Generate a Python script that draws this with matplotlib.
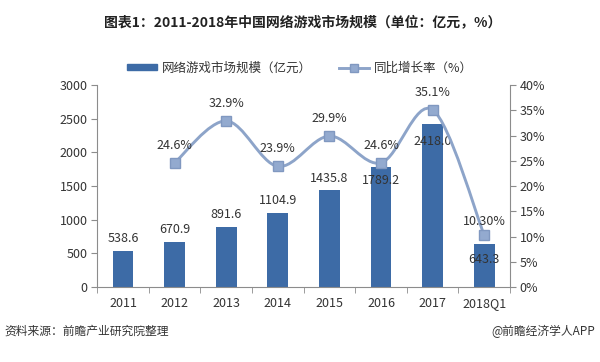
import numpy as np
import matplotlib
matplotlib.use("Agg")
from matplotlib import pyplot as plt
from matplotlib.path import Path
from matplotlib.patches import PathPatch
from matplotlib.lines import Line2D
from matplotlib.patches import Patch

plt.rcParams['font.family'] = ['Noto Sans CJK SC', 'DejaVu Sans']

# 数据
years = ['2011', '2012', '2013', '2014', '2015', '2016', '2017', '2018Q1']
scale = [538.6, 670.9, 891.6, 1104.9, 1435.8, 1789.2, 2418.0, 643.3]
scale_labels = ['538.6', '670.9', '891.6', '1104.9', '1435.8', '1789.2', '2418.0', '643.3']
growth_years = ['2012', '2013', '2014', '2015', '2016', '2017', '2018Q1']
growth = [24.6, 32.9, 23.9, 29.9, 24.6, 35.1, 10.3]
growth_labels = ['24.6%', '32.9%', '23.9%', '29.9%', '24.6%', '35.1%', '10.30%']

# 标签偏移 (pt)
bar_off = [4, 4, 4, 4, 4, -15, -17, -16]
line_off = [8, 8, 8, 8, 8, 8, 5]

bar_color = '#3D6BA6'
line_color = '#8DA4C9'
axis_color = '#8C8C8C'
text_color = '#333333'

fig = plt.figure(figsize=(6.0, 3.62), dpi=100)
ax = fig.add_axes([0.162, 0.207, 0.688, 0.558])
ax2 = ax.twinx()

x = np.arange(len(years))
ax.bar(x, scale, width=0.4, color=bar_color, zorder=2)
ax.set_xlim(-0.5, len(years) - 0.5)
ax.set_ylim(0, 3000)
ax.set_yticks(np.arange(0, 3001, 500))
ax.set_xticks(x)
ax.set_xticklabels(years)
ax.set_xticks(np.arange(-0.5, len(years), 1), minor=True)
ax.tick_params(axis='x', which='major', length=0, pad=7)
ax.tick_params(axis='x', which='minor', length=4, color=axis_color)
ax.tick_params(axis='y', length=4, color=axis_color, pad=3)
ax.tick_params(labelsize=9, labelcolor=text_color)

for i, v in enumerate(scale):
    ax.annotate(scale_labels[i], (x[i], v), xytext=(0, bar_off[i]), textcoords='offset points',
                ha='center', va='bottom', fontsize=9, color=text_color, zorder=5)

# 平滑曲线 (Excel 风格)
gx = np.array([years.index(g) for g in growth_years], dtype=float)
gy = np.array(growth)
verts = [(gx[0], gy[0])]
codes = [Path.MOVETO]
n = len(gx)
for i in range(n - 1):
    p0 = (gx[i - 1], gy[i - 1]) if i > 0 else (gx[i], gy[i])
    p1 = (gx[i], gy[i])
    p2 = (gx[i + 1], gy[i + 1])
    p3 = (gx[i + 2], gy[i + 2]) if i + 2 < n else (gx[i + 1], gy[i + 1])
    c1 = (p1[0] + (p2[0] - p0[0]) / 6, p1[1] + (p2[1] - p0[1]) / 6)
    c2 = (p2[0] - (p3[0] - p1[0]) / 6, p2[1] - (p3[1] - p1[1]) / 6)
    verts += [c1, c2, p2]
    codes += [Path.CURVE4] * 3
ax2.add_patch(PathPatch(Path(verts, codes), fill=False, edgecolor=line_color, lw=2.1, zorder=3))
ax2.plot(gx, gy, linestyle='none', marker='s', markersize=6.5, color='#93AACF',
         markeredgecolor='#8098C0', zorder=4)
for i, v in enumerate(gy):
    ax2.annotate(growth_labels[i], (gx[i], v), xytext=(0, line_off[i]), textcoords='offset points',
                 ha='center', va='bottom', fontsize=9, color=text_color, zorder=5)

ax2.set_ylim(0, 40)
ax2.set_yticks(np.arange(0, 41, 5))
ax2.set_yticklabels([f'{t}%' for t in range(0, 41, 5)])
ax2.tick_params(axis='y', length=4, color=axis_color, labelsize=9, labelcolor=text_color, pad=3)

for a in (ax, ax2):
    a.spines['top'].set_visible(False)
    for s in ('left', 'right', 'bottom'):
        a.spines[s].set_color(axis_color)
ax.spines['right'].set_visible(False)
ax2.spines['left'].set_visible(False)
ax2.spines['bottom'].set_visible(False)

handles = [Patch(color=bar_color),
           Line2D([0], [0], color=line_color, lw=2.1, marker='s', markersize=5.5,
                  markerfacecolor='#93AACF', markeredgecolor='#8098C0')]
fig.legend(handles, ['网络游戏市场规模（亿元）', '同比增长率（%）'], loc='center',
           bbox_to_anchor=(0.5, 0.812), ncol=2, frameon=False, fontsize=9,
           handlelength=2.4, handleheight=0.45, columnspacing=2.2, handletextpad=0.4,
           labelcolor=text_color)

fig.text(0.505, 0.94, '图表1：2011-2018年中国网络游戏市场规模（单位：亿元，%）', ha='center', va='center',
         fontsize=10, fontweight='bold', color='#222222')
fig.text(0.008, 0.085, '资料来源：前瞻产业研究院整理', ha='left', va='center', fontsize=8.5,
         style='italic', color='#333333')
fig.text(0.992, 0.085, '@前瞻经济学人APP', ha='right', va='center', fontsize=8.5, color='#333333')

fig.savefig('out.png', dpi=100)
